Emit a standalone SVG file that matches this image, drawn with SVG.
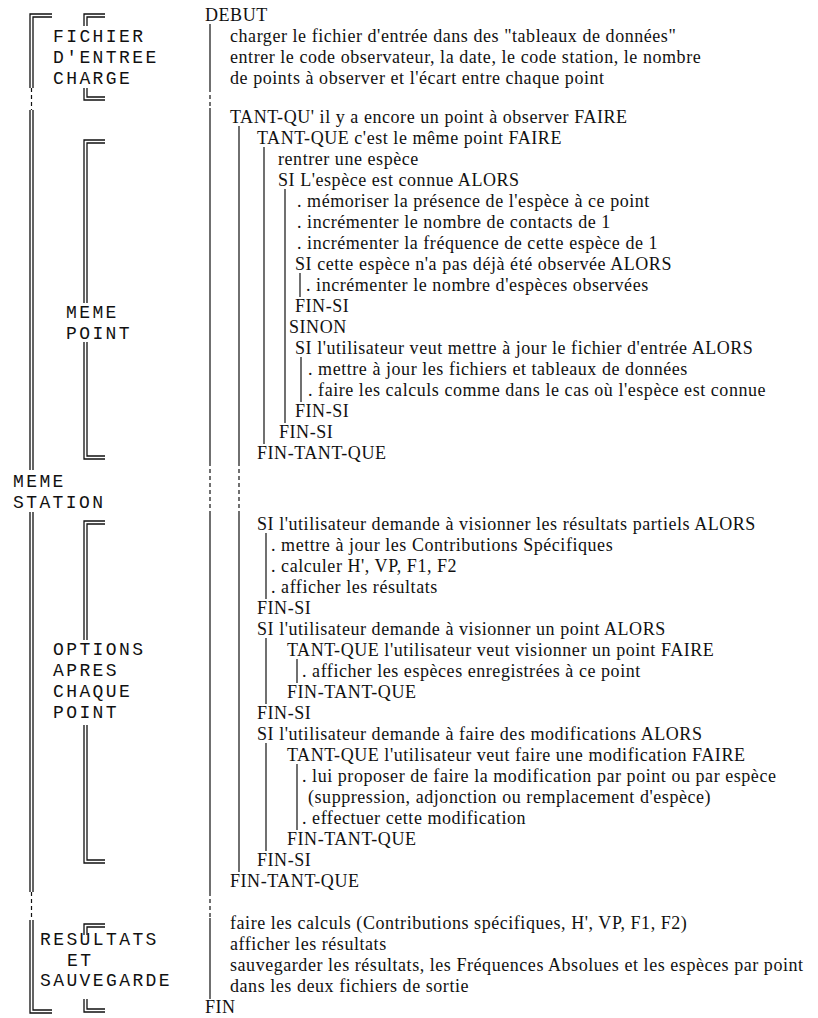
<svg xmlns="http://www.w3.org/2000/svg" width="818" height="1018" viewBox="0 0 818 1018">
<style>
.t{font-family:"Liberation Serif","Times New Roman",serif;font-size:18px;letter-spacing:0.55px;fill:#111}
.m{font-family:"Liberation Mono","Courier New",monospace;font-size:18px;letter-spacing:2.4px;fill:#111}
.br{fill:none;stroke:#111;stroke-width:1.3}
.bar{fill:none;stroke:#111;stroke-width:1.2}
.dash{fill:none;stroke:#111;stroke-width:1.2;stroke-dasharray:4 3}
</style>
<rect width="818" height="1018" fill="#fff"/>
<g id="connectors">
<path class="br" d="M52,14 H30 V88 M52,17 H33 V88"/>
<path class="dash" d="M31.5,88 V110"/>
<path class="br" d="M30,110 V470 M33,110 V470"/>
<path class="br" d="M30,512 V892 M33,512 V892"/>
<path class="dash" d="M31.5,892 V920"/>
<path class="br" d="M30,920 V1013 H52 M33,920 V1010 H52"/>
<path class="br" d="M105,14 H84 V26 M105,17 H87 V26"/>
<path class="br" d="M84,88 V100 H105 M87,88 V97 H105"/>
<path class="br" d="M105,140 H84 V303 M105,143 H87 V303"/>
<path class="br" d="M84,342 V459 H105 M87,342 V456 H105"/>
<path class="br" d="M105,521 H84 V640 M105,524 H87 V640"/>
<path class="br" d="M84,725 V863 H105 M87,725 V860 H105"/>
<path class="br" d="M105,924 H84 V935 M105,927 H87 V935"/>
<path class="br" d="M84,999 V1012 H105 M87,999 V1009 H105"/>
<path class="bar" d="M210,24 V88 M210,108 V462 M210,515 V892 M210,918 V999"/>
<path class="dash" d="M210,88 V108 M210,462 V515 M210,892 V918"/>
<path class="bar" d="M239,126 V462 M239,515 V872"/>
<path class="dash" d="M239,462 V515"/>
<path class="bar" d="M264,147 V444"/>
<path class="bar" d="M285,189 V423"/>
<path class="bar" d="M300,273 V297"/>
<path class="bar" d="M301,357 V402"/>
<path class="bar" d="M266,533 V599"/>
<path class="bar" d="M266,638 V704"/>
<path class="bar" d="M297,659 V683"/>
<path class="bar" d="M266,743 V851"/>
<path class="bar" d="M297,764 V830"/>
</g>
<g id="label-fichier">
<text class="m" x="53" y="42">FICHIER</text>
<text class="m" x="53" y="63">D'ENTREE</text>
<text class="m" x="53" y="84">CHARGE</text>
</g>
<g id="label-meme-point">
<text class="m" x="66" y="318">MEME</text>
<text class="m" x="66" y="339">POINT</text>
</g>
<g id="label-meme-station">
<text class="m" x="13" y="487">MEME</text>
<text class="m" x="13" y="508">STATION</text>
</g>
<g id="label-options">
<text class="m" x="53" y="655">OPTIONS</text>
<text class="m" x="53" y="676">APRES</text>
<text class="m" x="53" y="697">CHAQUE</text>
<text class="m" x="53" y="718">POINT</text>
</g>
<g id="label-resultats">
<text class="m" x="40" y="945">RESULTATS</text>
<text class="m" x="67" y="966">ET</text>
<text class="m" x="40" y="986">SAUVEGARDE</text>
</g>
<g id="code-init">
<text class="t" x="205" y="21">DEBUT</text>
<text class="t" x="230" y="42">charger le fichier d'entrée dans des "tableaux de données"</text>
<text class="t" x="230" y="63">entrer le code observateur, la date, le code station, le nombre</text>
<text class="t" x="230" y="84">de points à observer et l'écart entre chaque point</text>
</g>
<g id="code-boucle-point">
<text class="t" x="230" y="123">TANT-QU' il y a encore un point à observer FAIRE</text>
<text class="t" x="257" y="144">TANT-QUE c'est le même point FAIRE</text>
<text class="t" x="278" y="165">rentrer une espèce</text>
<text class="t" x="278" y="186">SI L'espèce est connue ALORS</text>
<text class="t" x="297" y="207">. mémoriser la présence de l'espèce à ce point</text>
<text class="t" x="297" y="228">. incrémenter le nombre de contacts de 1</text>
<text class="t" x="297" y="249">. incrémenter la fréquence de cette espèce de  1</text>
<text class="t" x="295" y="270">SI cette espèce n'a pas déjà été observée ALORS</text>
<text class="t" x="306" y="291">. incrémenter le nombre d'espèces observées</text>
<text class="t" x="295" y="312">FIN-SI</text>
<text class="t" x="289" y="333">SINON</text>
<text class="t" x="295" y="354">SI l'utilisateur veut mettre à jour le fichier d'entrée ALORS</text>
<text class="t" x="308" y="375">. mettre à jour les fichiers et tableaux de données</text>
<text class="t" x="308" y="396">. faire les calculs comme dans le cas où l'espèce est connue</text>
<text class="t" x="295" y="417">FIN-SI</text>
<text class="t" x="279" y="438">FIN-SI</text>
<text class="t" x="257" y="459">FIN-TANT-QUE</text>
</g>
<g id="code-options">
<text class="t" x="257" y="530">SI l'utilisateur demande à visionner les résultats partiels ALORS</text>
<text class="t" x="271" y="551">. mettre à jour les Contributions Spécifiques</text>
<text class="t" x="271" y="572">. calculer H', VP, F1, F2</text>
<text class="t" x="271" y="593">. afficher les résultats</text>
<text class="t" x="257" y="614">FIN-SI</text>
<text class="t" x="257" y="635">SI l'utilisateur demande à visionner un point ALORS</text>
<text class="t" x="287" y="656">TANT-QUE l'utilisateur veut visionner un point FAIRE</text>
<text class="t" x="302" y="677">. afficher les espèces enregistrées à ce point</text>
<text class="t" x="287" y="698">FIN-TANT-QUE</text>
<text class="t" x="257" y="719">FIN-SI</text>
<text class="t" x="257" y="740">SI l'utilisateur demande à faire des modifications ALORS</text>
<text class="t" x="287" y="761">TANT-QUE l'utilisateur veut faire une modification FAIRE</text>
<text class="t" x="302" y="782">. lui proposer de faire la modification par point ou par espèce</text>
<text class="t" x="308" y="803">(suppression, adjonction ou remplacement d'espèce)</text>
<text class="t" x="302" y="824">. effectuer cette modification</text>
<text class="t" x="287" y="845">FIN-TANT-QUE</text>
<text class="t" x="257" y="866">FIN-SI</text>
<text class="t" x="230" y="887">FIN-TANT-QUE</text>
</g>
<g id="code-fin">
<text class="t" x="230" y="929">faire les calculs (Contributions spécifiques, H', VP, F1, F2)</text>
<text class="t" x="230" y="950">afficher les résultats</text>
<text class="t" x="230" y="971">sauvegarder les résultats, les Fréquences Absolues et les espèces par point</text>
<text class="t" x="230" y="992">dans les deux fichiers de sortie</text>
<text class="t" x="205" y="1013">FIN</text>
</g>
</svg>
